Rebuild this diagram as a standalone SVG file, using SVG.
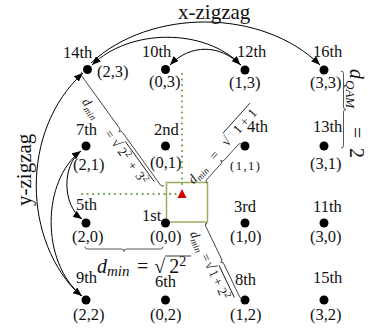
<svg xmlns="http://www.w3.org/2000/svg" width="369" height="332" viewBox="0 0 369 332">
<defs>
<marker id="ah" viewBox="0 0 10 8" refX="10" refY="4" markerWidth="9" markerHeight="7.2" markerUnits="userSpaceOnUse" orient="auto-start-reverse"><path d="M0,0 L10,4 L0,8 z" fill="#000"/></marker>
</defs>
<style>
.lbl{font-family:"Liberation Serif","Times New Roman",serif;font-size:16.5px;fill:#111}
.sm{font-size:12.5px;letter-spacing:1.5px}
.it{font-style:italic}
.r13{font-size:13px}
.r9{font-size:9.5px}
.arc{fill:none;stroke:#000;stroke-width:1}
.brace{fill:none;stroke:#444;stroke-width:0.9}
.ov{stroke:#222;stroke-width:0.9}
.grn{fill:none;stroke:#6a9a34;stroke-width:2;stroke-dasharray:0.1 5.4;stroke-linecap:round}
</style>
<rect width="369" height="332" fill="#fff"/>

<g id="guides">
<line class="grn" x1="182" y1="74" x2="182" y2="189"/>
<line class="grn" x1="82" y1="194" x2="177" y2="194"/>
<rect x="166.5" y="182.5" width="41" height="39.5" fill="none" stroke="#9aae62" stroke-width="1.5"/>
<polygon points="182,189 177.5,198 186.5,198" fill="#d40000"/>
</g>

<g id="connectors">
<path class="arc" d="M170,65 C190,44 220,44 240.5,65" marker-start="url(#ah)" marker-end="url(#ah)"/>
<path class="arc" d="M241,65 C205,28 130,28 92,65" marker-end="url(#ah)"/>
<path class="arc" d="M91,63 C150,8 262,8 320,65" marker-end="url(#ah)"/>
<path class="arc" d="M82,219 C62,205 62,165 81,151" marker-start="url(#ah)" marker-end="url(#ah)"/>
<path class="arc" d="M81,151 C42,180 40,262 82,296" marker-end="url(#ah)"/>
<path class="arc" d="M81,296 C22,242 20,130 83,73" marker-end="url(#ah)"/>
</g>

<g id="n14"><circle cx="87.5" cy="69.5" r="4.5"/><text class="lbl" x="63" y="58">14th</text><text class="lbl" x="97" y="77">(2,3)</text></g>
<g id="n10"><circle cx="165.5" cy="69.5" r="4.5"/><text class="lbl" x="142" y="57">10th</text><text class="lbl" x="149" y="87">(0,3)</text></g>
<g id="n12"><circle cx="245" cy="70" r="4.5"/><text class="lbl" x="237" y="57">12th</text><text class="lbl" x="229" y="88">(1,3)</text></g>
<g id="n16"><circle cx="324" cy="70" r="4.5"/><text class="lbl" x="313" y="57">16th</text><text class="lbl" x="310" y="88">(3,3)</text></g>

<g id="n7"><circle cx="86" cy="146" r="4.5"/><text class="lbl" x="76" y="135">7th</text><text class="lbl" x="73" y="170">(2,1)</text></g>
<g id="n2"><circle cx="165.5" cy="146" r="4.5"/><text class="lbl" x="154" y="135">2nd</text><text class="lbl" x="150" y="168">(0,1)</text></g>
<g id="n4"><circle cx="245" cy="146" r="4.5"/><text class="lbl" x="247" y="132">4th</text><text class="lbl sm" x="230" y="170">(1,1)</text></g>
<g id="n13"><circle cx="324" cy="146" r="4.5"/><text class="lbl" x="313" y="132">13th</text><text class="lbl" x="310" y="169">(3,1)</text></g>

<g id="n5"><circle cx="86" cy="223" r="4.5"/><text class="lbl" x="76" y="210">5th</text><text class="lbl" x="72" y="242">(2,0)</text></g>
<g id="n1"><circle cx="165.5" cy="223" r="4.5"/><text class="lbl" x="142" y="221">1st</text><text class="lbl" x="150" y="242">(0,0)</text></g>
<g id="n3"><circle cx="245" cy="223" r="4.5"/><text class="lbl" x="234" y="212">3rd</text><text class="lbl" x="230" y="242">(1,0)</text></g>
<g id="n11"><circle cx="324" cy="223" r="4.5"/><text class="lbl" x="313" y="212">11th</text><text class="lbl" x="310" y="242">(3,0)</text></g>

<g id="n9"><circle cx="86" cy="300" r="4.5"/><text class="lbl" x="76" y="283">9th</text><text class="lbl" x="73" y="320">(2,2)</text></g>
<g id="n6"><circle cx="165.5" cy="300" r="4.5"/><text class="lbl" x="155" y="287">6th</text><text class="lbl" x="150" y="320">(0,2)</text></g>
<g id="n8"><circle cx="245" cy="300" r="4.5"/><text class="lbl" x="235" y="285">8th</text><text class="lbl" x="230" y="320">(1,2)</text></g>
<g id="n15"><circle cx="324" cy="300" r="4.5"/><text class="lbl" x="313" y="283">15th</text><text class="lbl" x="310" y="320">(3,2)</text></g>

<g id="titles">
<text class="lbl" x="178" y="19" style="font-size:21px">x-zigzag</text>
<text class="lbl" transform="translate(31,206) rotate(-90)" style="font-size:21px">y-zigzag</text>
</g>

<g id="dist-a" transform="translate(82,72) rotate(54.2)">
<path class="brace" d="M0,0 q0,2.5 2.5,2.5 H67.5 q2.5,0 2.5,2.5 q0,-2.5 2.5,-2.5 H137.5 q2.5,0 2.5,-2.5"/>
<text class="lbl it r13" x="24" y="18">d</text>
<text class="lbl it r9" x="31" y="21">min</text>
<text class="lbl r13" x="63" y="18">=</text>
<text class="lbl" x="74" y="18" style="font-size:14px">√</text>
<line class="ov" x1="81.5" y1="5.5" x2="131" y2="5.5"/>
<text class="lbl r13" x="85" y="18">2</text>
<text class="lbl r9" x="91.5" y="13">2</text>
<text class="lbl r13" x="102" y="18">+</text>
<text class="lbl r13" x="115" y="18">3</text>
<text class="lbl r9" x="121.5" y="13">2</text>
</g>

<g id="dist-b" transform="translate(207,183) rotate(-48)">
<path class="brace" d="M0,0 q0,-2.5 2.5,-2.5 H23.5 q2.5,0 2.5,-2.5 q0,2.5 2.5,2.5 H49.5 q2.5,0 2.5,2.5"/>
<text class="lbl it r13" x="-10" y="-9">d</text>
<text class="lbl it r9" x="-3.5" y="-6">min</text>
<text class="lbl r13" x="22" y="-9">=</text>
<text class="lbl" x="40" y="-9" style="font-size:14px">√</text>
<line class="ov" x1="47.5" y1="-21.5" x2="88" y2="-21.5"/>
<text class="lbl r13" x="57" y="-9">1</text>
<text class="lbl r13" x="67" y="-9">+</text>
<text class="lbl r13" x="79" y="-9">1</text>
</g>

<g id="dist-c" transform="translate(207,223) rotate(64.4)">
<path class="brace" d="M0,0 q0,2.5 2.5,2.5 H39 q2.5,0 2.5,2.5 q0,-2.5 2.5,-2.5 H80.5 q2.5,0 2.5,-2.5"/>
<text class="lbl it r13" x="2" y="20">d</text>
<text class="lbl it r9" x="8.5" y="23">min</text>
<text class="lbl r13" x="27" y="20">=</text>
<text class="lbl" x="36" y="20" style="font-size:14px">√</text>
<line class="ov" x1="43.5" y1="7.5" x2="79" y2="7.5"/>
<text class="lbl r13" x="45" y="20">1</text>
<text class="lbl r13" x="54" y="20">+</text>
<text class="lbl r13" x="65" y="20">2</text>
<text class="lbl r9" x="71.5" y="15">2</text>
</g>

<g id="dist-d">
<path class="brace" transform="translate(85,246.5)" d="M0,0 q0,2.5 2.5,2.5 H36.5 q2.5,0 2.5,2.5 q0,-2.5 2.5,-2.5 H75.5 q2.5,0 2.5,-2.5"/>
<text class="lbl it" x="97" y="273" style="font-size:20px">d</text>
<text class="lbl it" x="107" y="276" style="font-size:15px">min</text>
<text class="lbl" x="137" y="273" style="font-size:20px">=<tspan dx="6">√</tspan><tspan dx="4">2</tspan><tspan dy="-7" style="font-size:14px">2</tspan></text>
<line class="ov" x1="165" y1="256" x2="191" y2="256"/>
</g>

<g id="dist-e">
<path class="brace" transform="translate(341,71) rotate(90)" d="M0,0 q0,-2.5 2.5,-2.5 H36 q2.5,0 2.5,-2.5 q0,2.5 2.5,2.5 H74.5 q2.5,0 2.5,2.5"/>
<g transform="translate(350,69) rotate(90)">
<text class="lbl it" x="0" y="0" style="font-size:20px">d</text>
<text class="lbl it" x="11" y="4" style="font-size:13px">QAM</text>
<text class="lbl" x="58" y="0" style="font-size:20px">=</text>
<text class="lbl" x="79" y="0" style="font-size:20px">2</text>
</g>
</g>
</svg>
